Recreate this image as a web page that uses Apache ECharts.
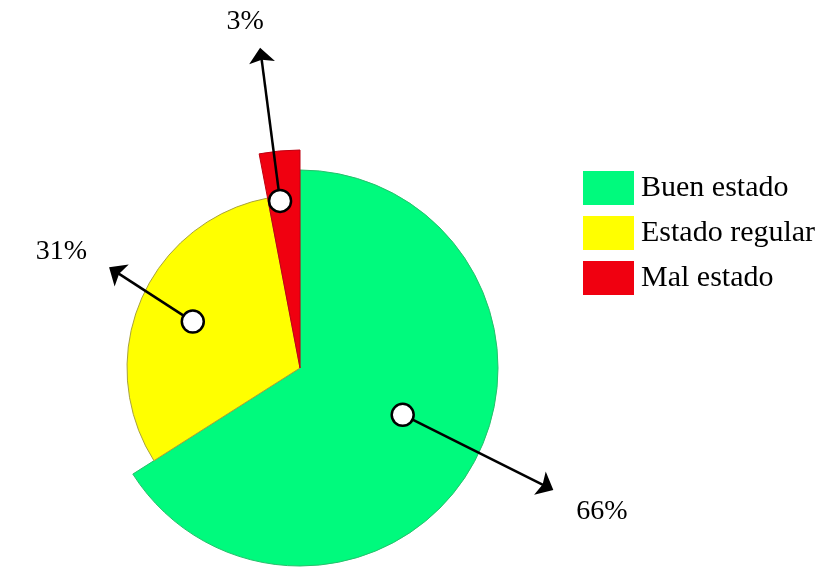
<!DOCTYPE html>
<html>
<head>
<meta charset="utf-8">
<script src="https://cdn.jsdelivr.net/npm/echarts@6/dist/echarts.min.js"></script>
<style>
  html, body { margin: 0; padding: 0; background: #fff; }
  #chart { width: 824px; height: 572px; }
</style>
</head>
<body>
<div id="chart"></div>
<script>
// Datos del gráfico
var categories = ['Buen estado', 'Estado regular', 'Mal estado'];
var values = [66, 31, 3];
var percentLabels = ['66%', '31%', '3%'];

// Estilo
var colors = ['#00fa7d', '#ffff00', '#f00010'];
var borders = ['#27c06c', '#a8a23c', '#c00010'];
var sliceRadius = [198, 173, 218];
var serif = '"Liberation Serif", "DejaVu Serif", serif';

// posición de cada flecha: [radio en % del círculo verde, desvío en grados]
var calloutLayout = [
  { dot: [57, -4.3], tip: [142, -3.1], text: [169, -3.3] },
  { dot: [59, 0], tip: [109, 4.4], text: [134, 2.6] },
  { dot: [85, -1.4], tip: [163, -1.7], text: [177, -3.6] }
];

var starts = [];
var acc = 0;
values.forEach(function (v) { starts.push(acc); acc += v; });

var chart = echarts.init(document.getElementById('chart'));

// una serie por porción, para que cada una tenga su propio radio
var pieSeries = categories.map(function (cat, k) {
  return {
    type: 'pie',
    silent: true,
    center: [300, 368],
    radius: [0, sliceRadius[k]],
    startAngle: 90,
    clockwise: true,
    label: { show: false },
    labelLine: { show: false },
    emphasis: { disabled: true },
    animation: false,
    z: 2,
    data: categories.map(function (name, i) {
      return {
        name: name,
        value: values[i],
        itemStyle: i === k
          ? { color: colors[i], borderColor: borders[i], borderWidth: 1 }
          : { color: 'transparent', borderWidth: 0 }
      };
    })
  };
});

function renderCallout(params, api) {
  var i = params.dataIndex;
  var mid = (api.value(1) + api.value(2)) / 2;
  var lay = calloutLayout[i];
  function pt(p) { return api.coord([p[0], mid + p[1] / 3.6]); }
  var dot = pt(lay.dot), tip = pt(lay.tip), txt = pt(lay.text);
  var dx = tip[0] - dot[0], dy = tip[1] - dot[1];
  var len = Math.sqrt(dx * dx + dy * dy);
  var ux = dx / len, uy = dy / len, px = -uy, py = ux;
  var headL = 15, headW = 13, dotR = 11;
  var bx = tip[0] - ux * headL, by = tip[1] - uy * headL;
  return {
    type: 'group',
    children: [
      {
        type: 'line',
        shape: { x1: dot[0] + ux * dotR, y1: dot[1] + uy * dotR, x2: bx + ux * 4, y2: by + uy * 4 },
        style: { stroke: '#000', lineWidth: 2.5 }
      },
      {
        type: 'polygon',
        shape: { points: [tip, [bx + px * headW, by + py * headW], [bx + ux * 3, by + uy * 3], [bx - px * headW, by - py * headW]] },
        style: { fill: '#000' }
      },
      {
        type: 'circle',
        shape: { cx: dot[0], cy: dot[1], r: dotR },
        style: { fill: '#fff', stroke: '#000', lineWidth: 2.5 }
      },
      {
        type: 'text',
        x: txt[0],
        y: txt[1],
        style: {
          text: percentLabels[i],
          fontFamily: serif,
          fontSize: 28,
          fill: '#000',
          align: 'center',
          verticalAlign: 'middle'
        }
      }
    ]
  };
}

var option = {
  backgroundColor: '#fff',
  animation: false,
  polar: { center: [300, 368], radius: 198 },
  radiusAxis: { type: 'value', min: 0, max: 100, show: false },
  angleAxis: { type: 'value', min: 0, max: 100, startAngle: 90, clockwise: true, show: false },
  legend: {
    orient: 'vertical',
    left: 578,
    top: 166,
    itemWidth: 51,
    itemHeight: 34,
    itemGap: 11,
    icon: 'rect',
    selectedMode: false,
    textStyle: { fontFamily: serif, fontSize: 30, color: '#000', padding: [0, 0, 0, 2] },
    data: categories.map(function (name, i) {
      return { name: name, itemStyle: { color: colors[i], borderWidth: 0 } };
    })
  },
  series: pieSeries.concat([{
    type: 'custom',
    coordinateSystem: 'polar',
    silent: true,
    z: 5,
    renderItem: renderCallout,
    data: values.map(function (v, i) { return [v, starts[i], starts[i] + v]; })
  }])
};

chart.setOption(option);
</script>
</body>
</html>
